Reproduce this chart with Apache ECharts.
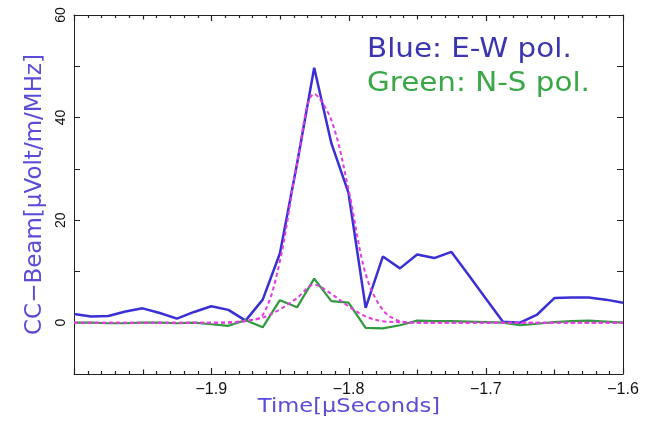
<!DOCTYPE html>
<html>
<head>
<meta charset="utf-8">
<script src="https://cdn.jsdelivr.net/npm/echarts@6/dist/echarts.min.js"></script>
<style>html,body{margin:0;padding:0;background:#fff}#c{width:650px;height:426px}</style>
</head>
<body>
<div id="c"></div>
<script>
// sample times (µs)
const times = [-2.0, -1.9875, -1.975, -1.9625, -1.95, -1.9375, -1.925, -1.9125, -1.9, -1.8875, -1.875,
  -1.8625, -1.85, -1.8375, -1.825, -1.8125, -1.8, -1.7875, -1.775, -1.7625, -1.75, -1.7375, -1.725,
  -1.7125, -1.7, -1.6875, -1.675, -1.6625, -1.65, -1.6375, -1.625, -1.6125, -1.6];
// E-W polarisation (blue)
const blueEW = [1.7, 1.2, 1.3, 2.2, 2.8, 1.9, 0.8, 2.1, 3.2, 2.5, 0.4,
  4.5, 13.5, 31.0, 49.7, 35.0, 25.3, 2.9, 12.9, 10.6, 13.3, 12.6, 13.8,
  9.3, 4.7, 0.2, 0.0, 1.6, 4.8, 4.9, 4.9, 4.5, 3.9];
// N-S polarisation (green)
const greenNS = [0.0, 0.0, -0.1, -0.1, 0.0, 0.0, -0.1, 0.0, -0.3, -0.6, 0.5,
  -0.9, 4.4, 3.0, 8.6, 4.2, 3.9, -1.0, -1.1, -0.5, 0.4, 0.3, 0.3,
  0.2, 0.1, 0.0, -0.5, -0.2, 0.1, 0.3, 0.4, 0.2, 0.0];
// fitted pulse shapes (magenta dashed)
const fitEW = [0, 0, 0, 0, 0, 0, 0, 0, 0, 0.1, 0.4,
  1.5, 12.0, 31.0, 44.6, 39.5, 26.0, 9.5, 2.5, 0.3, 0, 0, 0,
  0, 0, 0, 0, 0, 0, 0, 0, 0, 0];
const fitNS = [0, 0, 0, 0, 0, 0, 0, 0, 0, 0, 0.3,
  1.0, 2.6, 4.8, 7.4, 5.6, 3.2, 1.2, 0.3, 0.1, 0, 0, 0,
  0, 0, 0, 0, 0, 0, 0, 0, 0, 0];
const xTickLabels = ['−1.9', '−1.8', '−1.7', '−1.6'];
const yTickLabels = ['0', '20', '40', '60'];
const xRange = [-2.0, -1.6];
const yRange = [-10, 60];

const pairs = arr => times.map((t, i) => [t, arr[i]]);
const nameColor = '#5a4cd8';
const fmtX = v => {
  const s = '−' + Math.abs(v).toFixed(1);
  return xTickLabels.indexOf(s) >= 0 ? s : '';
};
const fmtY = v => {
  const s = String(Math.round(v));
  return yTickLabels.indexOf(s) >= 0 ? s : '';
};

const textGraphics = [
  {type: 'text', id: 't1', x: 367, y: 50, scaleX: 1.13, style: {text: 'Blue: E-W pol.', font: '26px "DejaVu Sans"', fill: '#3b35b0', verticalAlign: 'middle'}},
  {type: 'text', id: 't2', x: 367, y: 84, scaleX: 1.13, style: {text: 'Green: N-S pol.', font: '26px "DejaVu Sans"', fill: '#37a845', verticalAlign: 'middle'}},
  {type: 'text', id: 't3', x: 349, y: 407, scaleX: 1.13, style: {text: 'Time[μSeconds]', font: '20px "DejaVu Sans"', fill: nameColor, align: 'center', verticalAlign: 'middle'}}
];

const chart = echarts.init(document.getElementById('c'), null, {renderer: 'canvas'});
chart.setOption({
  animation: false,
  backgroundColor: '#fff',
  grid: {left: 74, right: 27, top: 15, bottom: 52},
  xAxis: [
    {type: 'value', min: xRange[0], max: xRange[1], interval: 0.1, position: 'bottom',
     axisLine: {show: true, onZero: false, lineStyle: {color: '#222', width: 1}},
     axisTick: {show: false},
     axisLabel: {formatter: fmtX, color: '#111', fontFamily: 'Liberation Sans', fontSize: 16, margin: 8, showMinLabel: true, showMaxLabel: true},
     splitLine: {show: false}},
    {type: 'value', min: xRange[0], max: xRange[1], interval: 0.1, position: 'top',
     axisLine: {show: true, onZero: false, lineStyle: {color: '#222', width: 1}},
     axisTick: {show: false}, axisLabel: {show: false}, splitLine: {show: false}}
  ],
  yAxis: [
    {type: 'value', min: yRange[0], max: yRange[1], interval: 10, position: 'left',
     name: 'CC−Beam[μVolt/m/MHz]', nameLocation: 'middle', nameGap: 26,
     nameTextStyle: {color: nameColor, fontFamily: 'DejaVu Sans', fontSize: 23},
     axisLine: {show: true, onZero: false, lineStyle: {color: '#222', width: 1}},
     axisTick: {show: true, inside: true, length: 6, lineStyle: {color: '#222', width: 1}},
     axisLabel: {formatter: fmtY, rotate: 90, color: '#111', fontFamily: 'Liberation Sans', fontSize: 14, margin: 6, showMinLabel: true, showMaxLabel: true},
     splitLine: {show: false}},
    {type: 'value', min: yRange[0], max: yRange[1], interval: 10, position: 'right',
     axisLine: {show: true, onZero: false, lineStyle: {color: '#222', width: 1}},
     axisTick: {show: true, inside: true, length: 6, lineStyle: {color: '#222', width: 1}},
     axisLabel: {show: false}, splitLine: {show: false}}
  ],
  series: [
    {type: 'line', name: 'E-W', data: pairs(blueEW), symbol: 'none',
     lineStyle: {color: '#3a2fd4', width: 2.5}, z: 3},
    {type: 'line', name: 'N-S', data: pairs(greenNS), symbol: 'none',
     lineStyle: {color: '#2f9a3c', width: 2.2}, z: 4},
    {type: 'line', name: 'fit E-W', data: pairs(fitEW), symbol: 'none', smooth: 0.35,
     lineStyle: {color: '#e23de0', width: 2, type: [4, 3]}, z: 5},
    {type: 'line', name: 'fit N-S', data: pairs(fitNS), symbol: 'none', smooth: 0.35,
     lineStyle: {color: '#e23de0', width: 2, type: [4, 3]}, z: 5}
  ],
  graphic: textGraphics
});

// x-axis tick marks (minor 0.01, medium 0.05, major 0.1) on bottom and top, placed through the axis scale
function toPx(pt) {
  let p = null;
  try { p = chart.convertToPixel({seriesIndex: 0}, pt); } catch (e) { p = null; }
  if (!p) { try { p = chart.convertToPixel({gridIndex: 0}, pt); } catch (e) { p = null; } }
  return p;
}
function addTicks() {
  const tickGraphics = [];
  for (let k = 0; k <= 40; k++) {
    const v = xRange[0] + k * 0.01;
    const len = (k % 10 === 0) ? 6 : (k % 5 === 0 ? 4.5 : 3);
    const pb = toPx([v, yRange[0]]);
    const pt = toPx([v, yRange[1]]);
    if (!pb || !pt) continue;
    const x = Math.round(pb[0]) + 0.5;
    tickGraphics.push({type: 'line', id: 'tb' + k, silent: true, z: 100,
      shape: {x1: x, y1: pb[1], x2: x, y2: pb[1] - len}, style: {stroke: '#222', lineWidth: 1.2}});
    tickGraphics.push({type: 'line', id: 'tt' + k, silent: true, z: 100,
      shape: {x1: x, y1: pt[1], x2: x, y2: pt[1] + len}, style: {stroke: '#222', lineWidth: 1.2}});
  }
  chart.setOption({graphic: textGraphics.concat(tickGraphics)});
}
addTicks();
</script>
</body>
</html>
